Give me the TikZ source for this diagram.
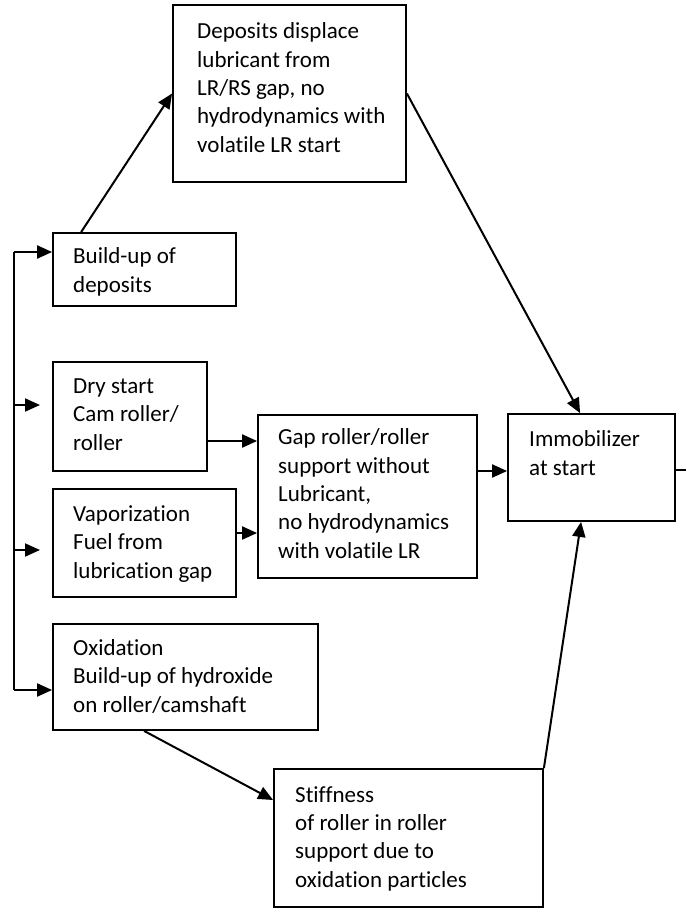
\documentclass[tikz,border=0pt]{standalone}
\usepackage{fontspec}
\setmainfont{Carlito}[Ligatures=NoCommon]
\usetikzlibrary{arrows.meta}
\begin{document}
\begin{tikzpicture}[x=1pt,y=-1pt,
  box/.style={draw, line width=1.8pt, inner sep=0pt},
  txt/.style={anchor=base west, inner sep=0pt, align=left, font=\fontsize{23}{28.3}\selectfont},
  link/.style={line width=2pt},
  arr/.style={line width=2pt, -{Triangle[length=15pt,width=13pt]}}]
\useasboundingbox (0,0) rectangle (686,913);
% boxes
\node[box, minimum width=233pt, minimum height=177pt] (dep) at (289.5,93.5) {};
\node[box, minimum width=183pt, minimum height=73pt] (bu) at (144.5,269.5) {};
\node[box, minimum width=154pt, minimum height=109pt] (dry) at (130,416.5) {};
\node[box, minimum width=183pt, minimum height=108pt] (vap) at (144.5,543) {};
\node[box, minimum width=219pt, minimum height=163pt] (gap) at (367.5,496.5) {};
\node[box, minimum width=167pt, minimum height=107pt] (imm) at (591.5,467.5) {};
\node[box, minimum width=265pt, minimum height=106pt] (ox) at (185.5,677) {};
\node[box, minimum width=269pt, minimum height=138pt] (stf) at (408.5,838) {};
% texts (anchored at the baseline of the last line)
\node[txt] (tdep) at (197,152) {Deposits displace\\lubricant from\\LR/RS gap, no\\hydrodynamics with\\volatile LR start};
\node[txt] (tbu) at (73,292) {Build-up of\\deposits};
\node[txt] (tdry) at (73,450) {Dry start\\Cam roller/\\roller};
\node[txt] (tvap) at (73,578) {Vaporization\\Fuel from\\lubrication gap};
\node[txt] (tgap) at (278,558) {Gap roller/roller\\support without\\Lubricant,\\no hydrodynamics\\with volatile LR};
\node[txt] (timm) at (529,475) {Immobilizer\\at start};
\node[txt] (tox) at (73,712) {Oxidation\\Build-up of hydroxide\\on roller/camshaft};
\node[txt] (tstf) at (295,887) {Stiffness\\of roller in roller\\support due to\\oxidation particles};
% left bus
\coordinate (bt) at (14,252);
\coordinate (bb) at (14,690);
\coordinate (b1) at (13,405);
\coordinate (b1e) at (40,405);
\coordinate (b2) at (15,550);
\coordinate (b2e) at (40,550);
\draw[link] (bt) -- (bb);
\draw[arr] (bt) -- (bt -| bu.west);
\draw[arr] (bb) -- (bb -| ox.west);
\draw[arr] (b1) -- (b1e);
\draw[arr] (b2) -- (b2e);
% connectors
\draw[arr] ([xshift=29pt]bu.north west) -- (dep.west);
\draw[arr] (dep.east) -- ([xshift=73pt]imm.north west);
\coordinate (d1) at ([yshift=-24.5pt]dry.east);
\draw[arr] (d1) -- (d1 -| gap.west);
\coordinate (v1) at ([yshift=10pt]vap.east);
\draw[arr] (v1) -- (v1 -| gap.west);
\coordinate (g1) at ([yshift=25.5pt]gap.east);
\draw[arr] (g1) -- (g1 -| imm.west);
\coordinate (out) at (686,470);
\draw[link] (out -| imm.east) -- (out);
\draw[arr] (stf.north east) -- ([xshift=74pt]imm.south west);
\draw[arr] ([xshift=92pt]ox.south west) -- ([yshift=38pt]stf.west);
\end{tikzpicture}
\end{document}
